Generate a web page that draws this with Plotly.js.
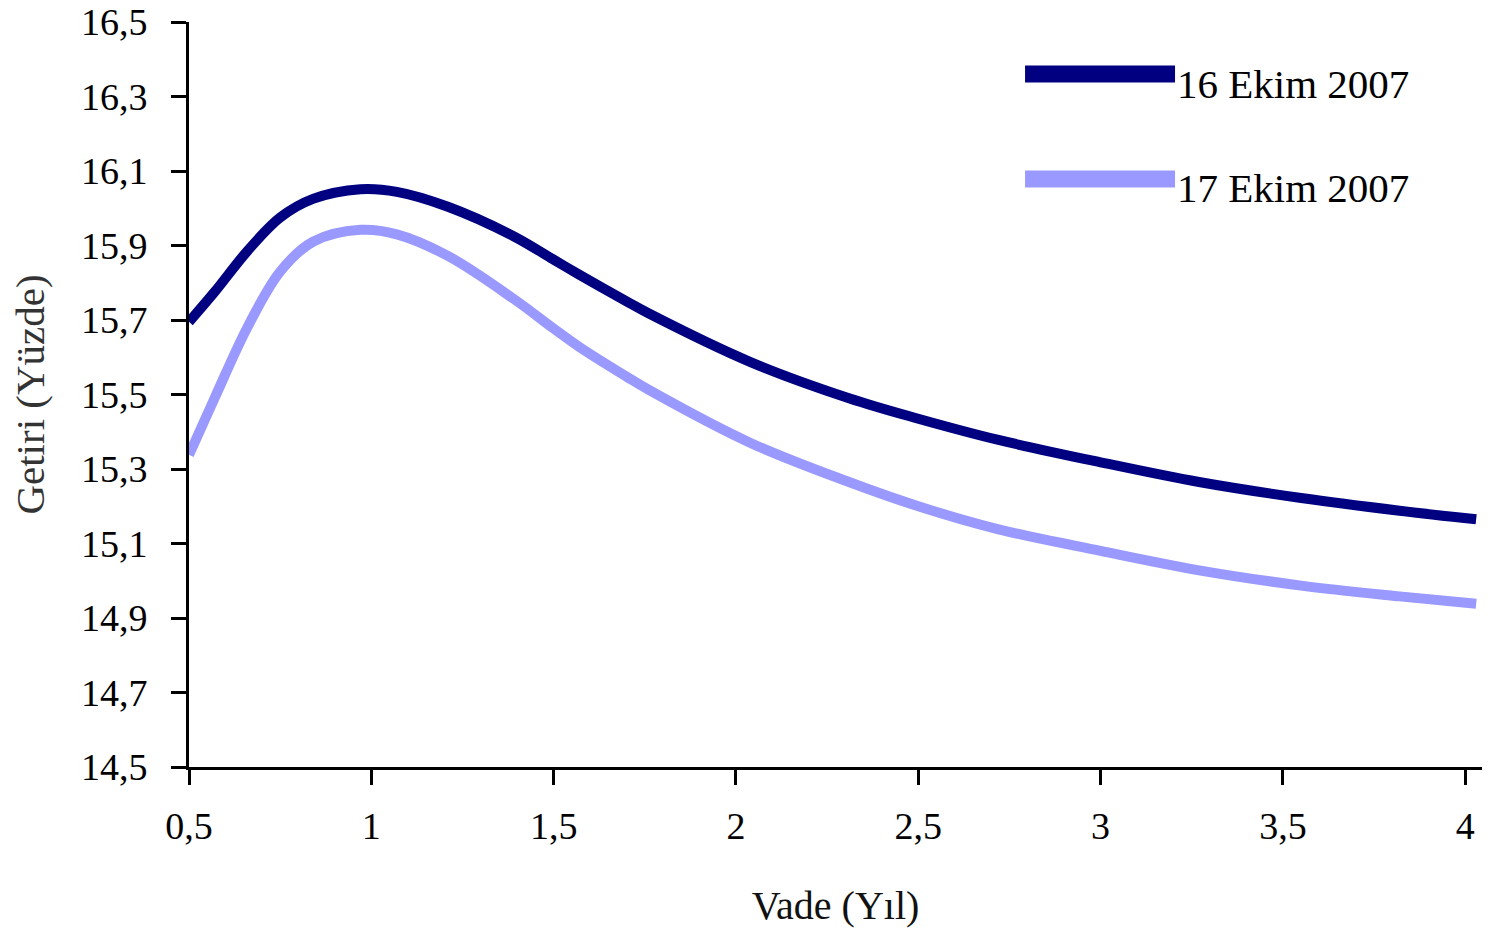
<!DOCTYPE html>
<html>
<head>
<meta charset="utf-8">
<script src="https://cdn.plot.ly/plotly-3.0.1.min.js"></script>
<style>
  html, body { margin: 0; padding: 0; background: #ffffff; }
  #chart { width: 1499px; height: 933px; }
</style>
</head>
<body>
<div id="chart"></div>
<script>
// Vade (Yıl) - maturity in years
var maturity = [0.5, 0.57, 0.66, 0.75, 0.84, 0.97, 1.07, 1.21, 1.39, 1.5, 1.57, 1.70, 1.76, 2.04, 2.31, 2.5, 2.72, 3.0, 3.27, 3.55, 3.82, 4.03];
// Getiri - 16 Ekim 2007
var yield16 = [15.695, 15.775, 15.885, 15.975, 16.025, 16.051, 16.044, 16.004, 15.925, 15.862, 15.822, 15.75, 15.718, 15.587, 15.49, 15.435, 15.378, 15.318, 15.265, 15.222, 15.188, 15.165];
// Getiri - 17 Ekim 2007
var yield17 = [15.338, 15.49, 15.68, 15.83, 15.91, 15.942, 15.93, 15.872, 15.757, 15.677, 15.628, 15.548, 15.513, 15.37, 15.265, 15.2, 15.138, 15.08, 15.028, 14.987, 14.958, 14.938];

var seriesNames = ["16 Ekim 2007", "17 Ekim 2007"];
var seriesColors = ["#000080", "#9999FF"];
var yTicks = [14.5, 14.7, 14.9, 15.1, 15.3, 15.5, 15.7, 15.9, 16.1, 16.3, 16.5];
var xTicks = [0.5, 1, 1.5, 2, 2.5, 3, 3.5, 4];

var FONT = "Liberation Serif, Times New Roman, serif";

var traces = [
  { x: maturity, y: yield16, name: seriesNames[0], type: "scatter", mode: "lines",
    line: { color: seriesColors[0], width: 10, shape: "spline", smoothing: 1 }, showlegend: false },
  { x: maturity, y: yield17, name: seriesNames[1], type: "scatter", mode: "lines",
    line: { color: seriesColors[1], width: 10, shape: "spline", smoothing: 1 }, showlegend: false }
];

var legendRowsY = [0.9302, 0.7893];
var legendTextY = [0.9168, 0.7772];
var shapes = [];
var annotations = [];
for (var i = 0; i < seriesNames.length; i++) {
  shapes.push({ type: "line", xref: "paper", yref: "paper",
    x0: 0.6466, x1: 0.7626, y0: legendRowsY[i], y1: legendRowsY[i],
    line: { color: seriesColors[i], width: 17 } });
  annotations.push({ xref: "paper", yref: "paper", x: 0.7626, y: legendTextY[i],
    xanchor: "left", yanchor: "middle", showarrow: false, text: seriesNames[i],
    font: { family: FONT, size: 41, color: "#000000" } });
}

var layout = {
  width: 1499, height: 933,
  margin: { l: 189, r: 17, t: 22, b: 166 },
  paper_bgcolor: "#ffffff", plot_bgcolor: "#ffffff",
  separators: ",.",
  font: { family: FONT, size: 38, color: "#000000" },
  showlegend: false,
  xaxis: {
    range: [0.5, 4.046],
    tickvals: xTicks,
    showgrid: false, zeroline: false,
    showline: true, linecolor: "#000000", linewidth: 3,
    ticks: "outside", ticklen: 15, tickwidth: 3, tickcolor: "#000000",
    ticklabelstandoff: 8,
    tickfont: { family: FONT, size: 38, color: "#000000" },
    title: { text: "Vade (Yıl)", font: { family: FONT, size: 40, color: "#111111" }, standoff: 46 }
  },
  yaxis: {
    range: [14.5, 16.5],
    tickvals: yTicks,
    tickformat: ".1f",
    showgrid: false, zeroline: false,
    showline: true, linecolor: "#000000", linewidth: 3,
    ticks: "outside", ticklen: 15, tickwidth: 3, tickcolor: "#000000",
    ticklabelstandoff: 16,
    tickfont: { family: FONT, size: 38, color: "#000000" },
    title: { text: "Getiri (Yüzde)", font: { family: FONT, size: 41, color: "#333333" }, standoff: 24 }
  },
  shapes: shapes,
  annotations: annotations
};

Plotly.newPlot("chart", traces, layout, { displayModeBar: false, staticPlot: true });
</script>
</body>
</html>
